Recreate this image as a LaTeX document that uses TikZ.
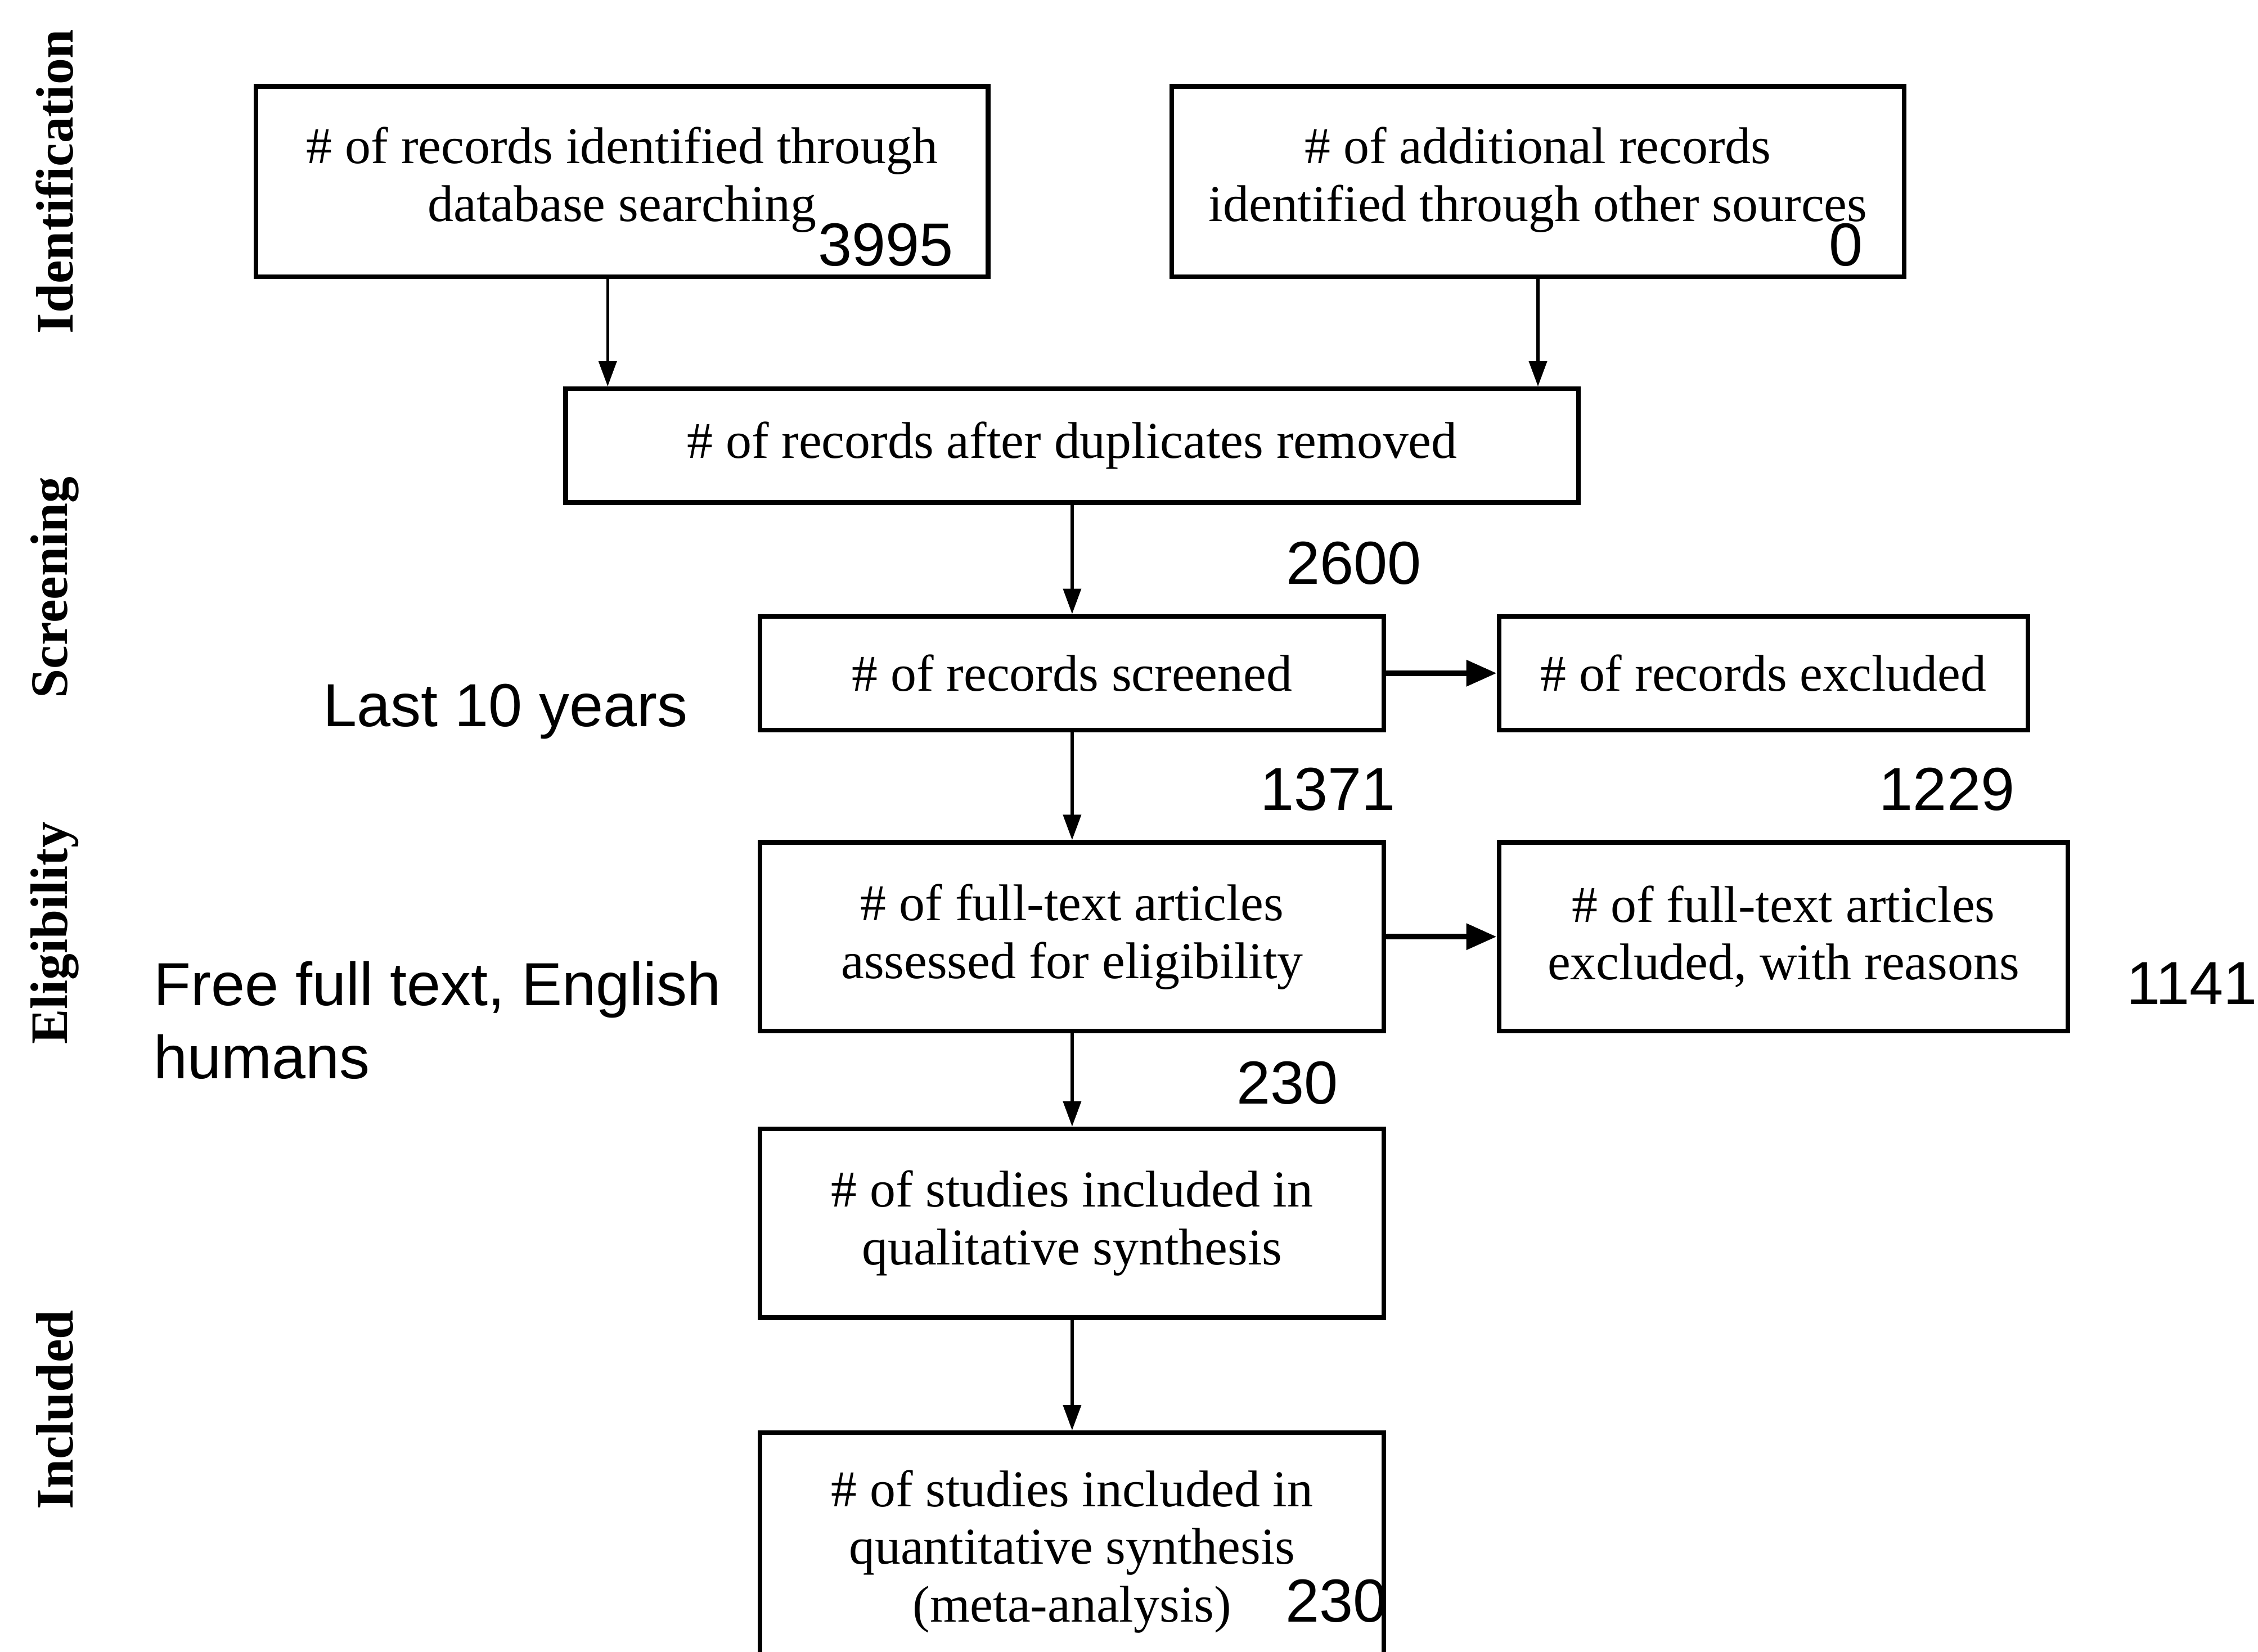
\documentclass[tikz,border=0pt]{standalone}
\usepackage{fontspec}
\setmainfont{Liberation Serif}
\newfontfamily\numfont{Liberation Sans}
\usetikzlibrary{arrows.meta}
\begin{document}
\begin{tikzpicture}[x=0.01cm,y=-0.01cm,
  box/.style={draw, line width=0.9pt, inner sep=0pt, align=center,
    font=\fontsize{10.2}{11.4}\selectfont},
  num/.style={font=\numfont\fontsize{12}{14.5}\selectfont, inner sep=0pt},
  phase/.style={rotate=90, font=\bfseries\fontsize{10.4}{12}\selectfont, inner sep=0pt},
  arr/.style={-{Triangle[length=5pt,width=3.5pt]}, line width=0.6pt},
  harr/.style={-{Triangle[length=6pt,width=5pt]}, line width=1.1pt}]
\useasboundingbox[fill=white] (0,0) rectangle (1568,1147);

% phase labels
\node[phase] (pid) at (38,126) {Identification};
\node[phase] (psc) at (38,408) {Screening};
\node[phase] (pel) at (38,648) {Eligibility};
\node[phase] (pin) at (38,979) {Included};

% boxes
\node[box, minimum width=5.08cm, minimum height=1.32cm] (A) at (432,126)
  {\# of records identified through\\database searching\\[-8.5pt]\mbox{}};
\node[box, minimum width=5.08cm, minimum height=1.32cm] (B) at (1068,126)
  {\# of additional records\\identified through other sources\\[-8.5pt]\mbox{}};
\node[box, minimum width=7.03cm, minimum height=0.79cm] (C) at (744.5,309.5)
  {\# of records after duplicates removed};
\node[box, minimum width=4.33cm, minimum height=0.79cm] (D) at (744.5,467.5)
  {\# of records screened};
\node[box, minimum width=3.67cm, minimum height=0.79cm] (E) at (1224.5,467.5)
  {\# of records excluded};
\node[box, minimum width=4.33cm, minimum height=1.31cm] (F) at (744.5,650.5)
  {\# of full-text articles\\assessed for eligibility};
\node[box, minimum width=3.95cm, minimum height=1.31cm] (G) at (1238.5,650.5)
  {\# of full-text articles\\excluded, with reasons};
\node[box, minimum width=4.33cm, minimum height=1.31cm] (H) at (744.5,849.5)
  {\# of studies included in\\qualitative synthesis};
\node[box, minimum width=4.33cm, minimum height=1.65cm] (I) at (744.5,1077.5)
  {\# of studies included in\\quantitative synthesis\\(meta-analysis)};

% numbers and side notes
\node[num] (n3995) at (615,170) {3995};
\node[num] (n0) at (1282,170) {0};
\node[num] (n2600) at (940,391) {2600};
\node[num] (n1371) at (922,548) {1371};
\node[num] (n1229) at (1352,548) {1229};
\node[num] (n1141) at (1522,683) {1141};
\node[num] (n230a) at (894,752) {230};
\node[num] (n230b) at (928,1112) {230};
\node[num] (last) at (351,494) {Last 10 years};
\node[num, anchor=west, align=left] (free) at (106,708.5) {Free full text, English\\humans};

% connectors
\draw[arr] ([xshift=-0.1cm]A.south) -- ([xshift=-0.1cm]A.south |- C.north);
\draw[arr] (B.south) -- (B.south |- C.north);
\draw[arr] (C.south) -- (D.north);
\draw[harr] (D.east) -- (E.west);
\draw[arr] (D.south) -- (F.north);
\draw[harr] (F.east) -- (G.west);
\draw[arr] (F.south) -- (H.north);
\draw[arr] (H.south) -- (I.north);
\end{tikzpicture}
\end{document}
